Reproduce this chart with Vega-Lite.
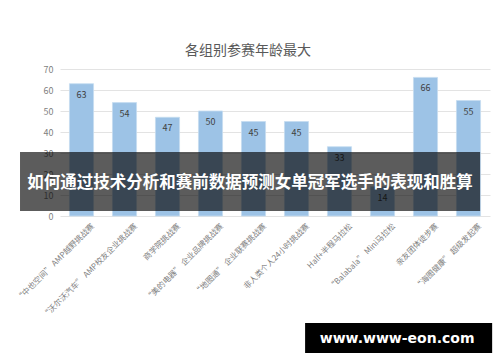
{
  "$schema": "https://vega.github.io/schema/vega-lite/v6.json",
  "autosize": "none",
  "width": 430,
  "height": 147,
  "padding": {"left": 60, "top": 69, "right": 10, "bottom": 146},
  "background": "white",
  "config": {
    "view": {"stroke": null},
    "font": "Noto Sans CJK SC",
    "axisY": {
      "labelFontSize": 9, "labelColor": "#7f7f7f", "ticks": false,
      "domain": false, "gridColor": "#e3e3e3", "labelPadding": 7,
      "labelOverlap": false, "title": null
    }
  },
  "title": {
    "text": "各组别参赛年龄最大",
    "fontSize": 14,
    "fontWeight": "normal",
    "color": "#595959",
    "font": "Noto Sans CJK SC",
    "anchor": "middle",
    "dx": -27,
    "offset": 7
  },
  "data": {
    "values": [
      {"group": "“中也空间” AMP越野挑战赛", "age": 63},
      {"group": "“沃尔沃汽车” AMP校友企业挑战赛", "age": 54},
      {"group": "商学院挑战赛", "age": 47},
      {"group": "“美的电器” 企业品牌挑战赛", "age": 50},
      {"group": "“地图通” 企业联赛挑战赛", "age": 45},
      {"group": "非人类个人24小时挑战赛", "age": 45},
      {"group": "Half+半程马拉松", "age": 33},
      {"group": "“Balabala” Mini马拉松", "age": 14},
      {"group": "亲友团体徒步赛", "age": 66},
      {"group": "“海图健康” 超级发起赛", "age": 55}
    ]
  },
  "resolve": {"scale": {"x": "independent"}},
  "layer": [
    {
      "mark": {"type": "bar", "color": "#9dc3e6", "stroke": "#c5dcf0", "strokeWidth": 0.8},
      "encoding": {
        "x": {
          "field": "group", "type": "nominal", "sort": null,
          "scale": {"paddingInner": 0.44, "paddingOuter": 0.22},
          "axis": {
            "title": null, "labelAngle": -45, "labelFontSize": 8,
            "labelColor": "#7f7f7f", "ticks": false, "domain": false,
            "labelPadding": 6, "labelOffset": 9, "labelLimit": 200,
            "labelFont": "Noto Sans CJK SC", "labelOverlap": false
          }
        },
        "y": {
          "field": "age", "type": "quantitative",
          "scale": {"domain": [0, 70], "nice": false},
          "axis": {"values": [0, 10, 20, 30, 40, 50, 60, 70], "tickCount": 8}
        }
      }
    },
    {
      "mark": {"type": "text", "baseline": "middle", "dy": 11, "fontSize": 9, "color": "#404040"},
      "encoding": {
        "x": {
          "field": "group", "type": "nominal", "sort": null,
          "scale": {"paddingInner": 0.44, "paddingOuter": 0.22},
          "axis": null
        },
        "y": {"field": "age", "type": "quantitative", "axis": {"values": [0, 10, 20, 30, 40, 50, 60, 70], "tickCount": 8}},
        "text": {"field": "age", "type": "quantitative"}
      }
    },
    {
      "data": {"values": [{}]},
      "mark": {"type": "rect", "color": "black", "opacity": 0.64},
      "encoding": {
        "x": {"datum": -0.093, "type": "quantitative", "scale": {"domain": [0, 1], "nice": false, "zero": false}, "axis": null},
        "x2": {"datum": 0.977},
        "y": {"datum": 30.48, "type": "quantitative", "axis": {"values": [0, 10, 20, 30, 40, 50, 60, 70], "tickCount": 8}},
        "y2": {"datum": 2.38}
      }
    },
    {
      "data": {"values": [{"t": "如何通过技术分析和赛前数据预测女单冠军选手的表现和胜算"}]},
      "mark": {"type": "text", "color": "white", "fontWeight": "bold", "fontSize": 16.5, "font": "Noto Sans CJK SC", "baseline": "middle", "align": "center"},
      "encoding": {
        "x": {"datum": 0.442, "type": "quantitative", "scale": {"domain": [0, 1], "nice": false, "zero": false}, "axis": null},
        "y": {"datum": 15.7, "type": "quantitative", "axis": {"values": [0, 10, 20, 30, 40, 50, 60, 70], "tickCount": 8}},
        "text": {"field": "t"}
      }
    },
    {
      "data": {"values": [{}]},
      "mark": {"type": "rect", "color": "black", "clip": false},
      "encoding": {
        "x": {"datum": 0.57, "type": "quantitative", "scale": {"domain": [0, 1], "nice": false, "zero": false}, "axis": null},
        "x2": {"datum": 1.005},
        "y": {"datum": -50.95, "type": "quantitative", "axis": {"values": [0, 10, 20, 30, 40, 50, 60, 70], "tickCount": 8}},
        "y2": {"datum": -65.24}
      }
    },
    {
      "data": {"values": [{"t": "www.www-eon.com"}]},
      "mark": {"type": "text", "color": "white", "fontWeight": "bold", "fontSize": 14, "font": "DejaVu Sans", "baseline": "middle", "align": "center"},
      "encoding": {
        "x": {"datum": 0.784, "type": "quantitative", "scale": {"domain": [0, 1], "nice": false, "zero": false}, "axis": null},
        "y": {"datum": -58.6, "type": "quantitative", "axis": {"values": [0, 10, 20, 30, 40, 50, 60, 70], "tickCount": 8}},
        "text": {"field": "t"}
      }
    }
  ]
}
